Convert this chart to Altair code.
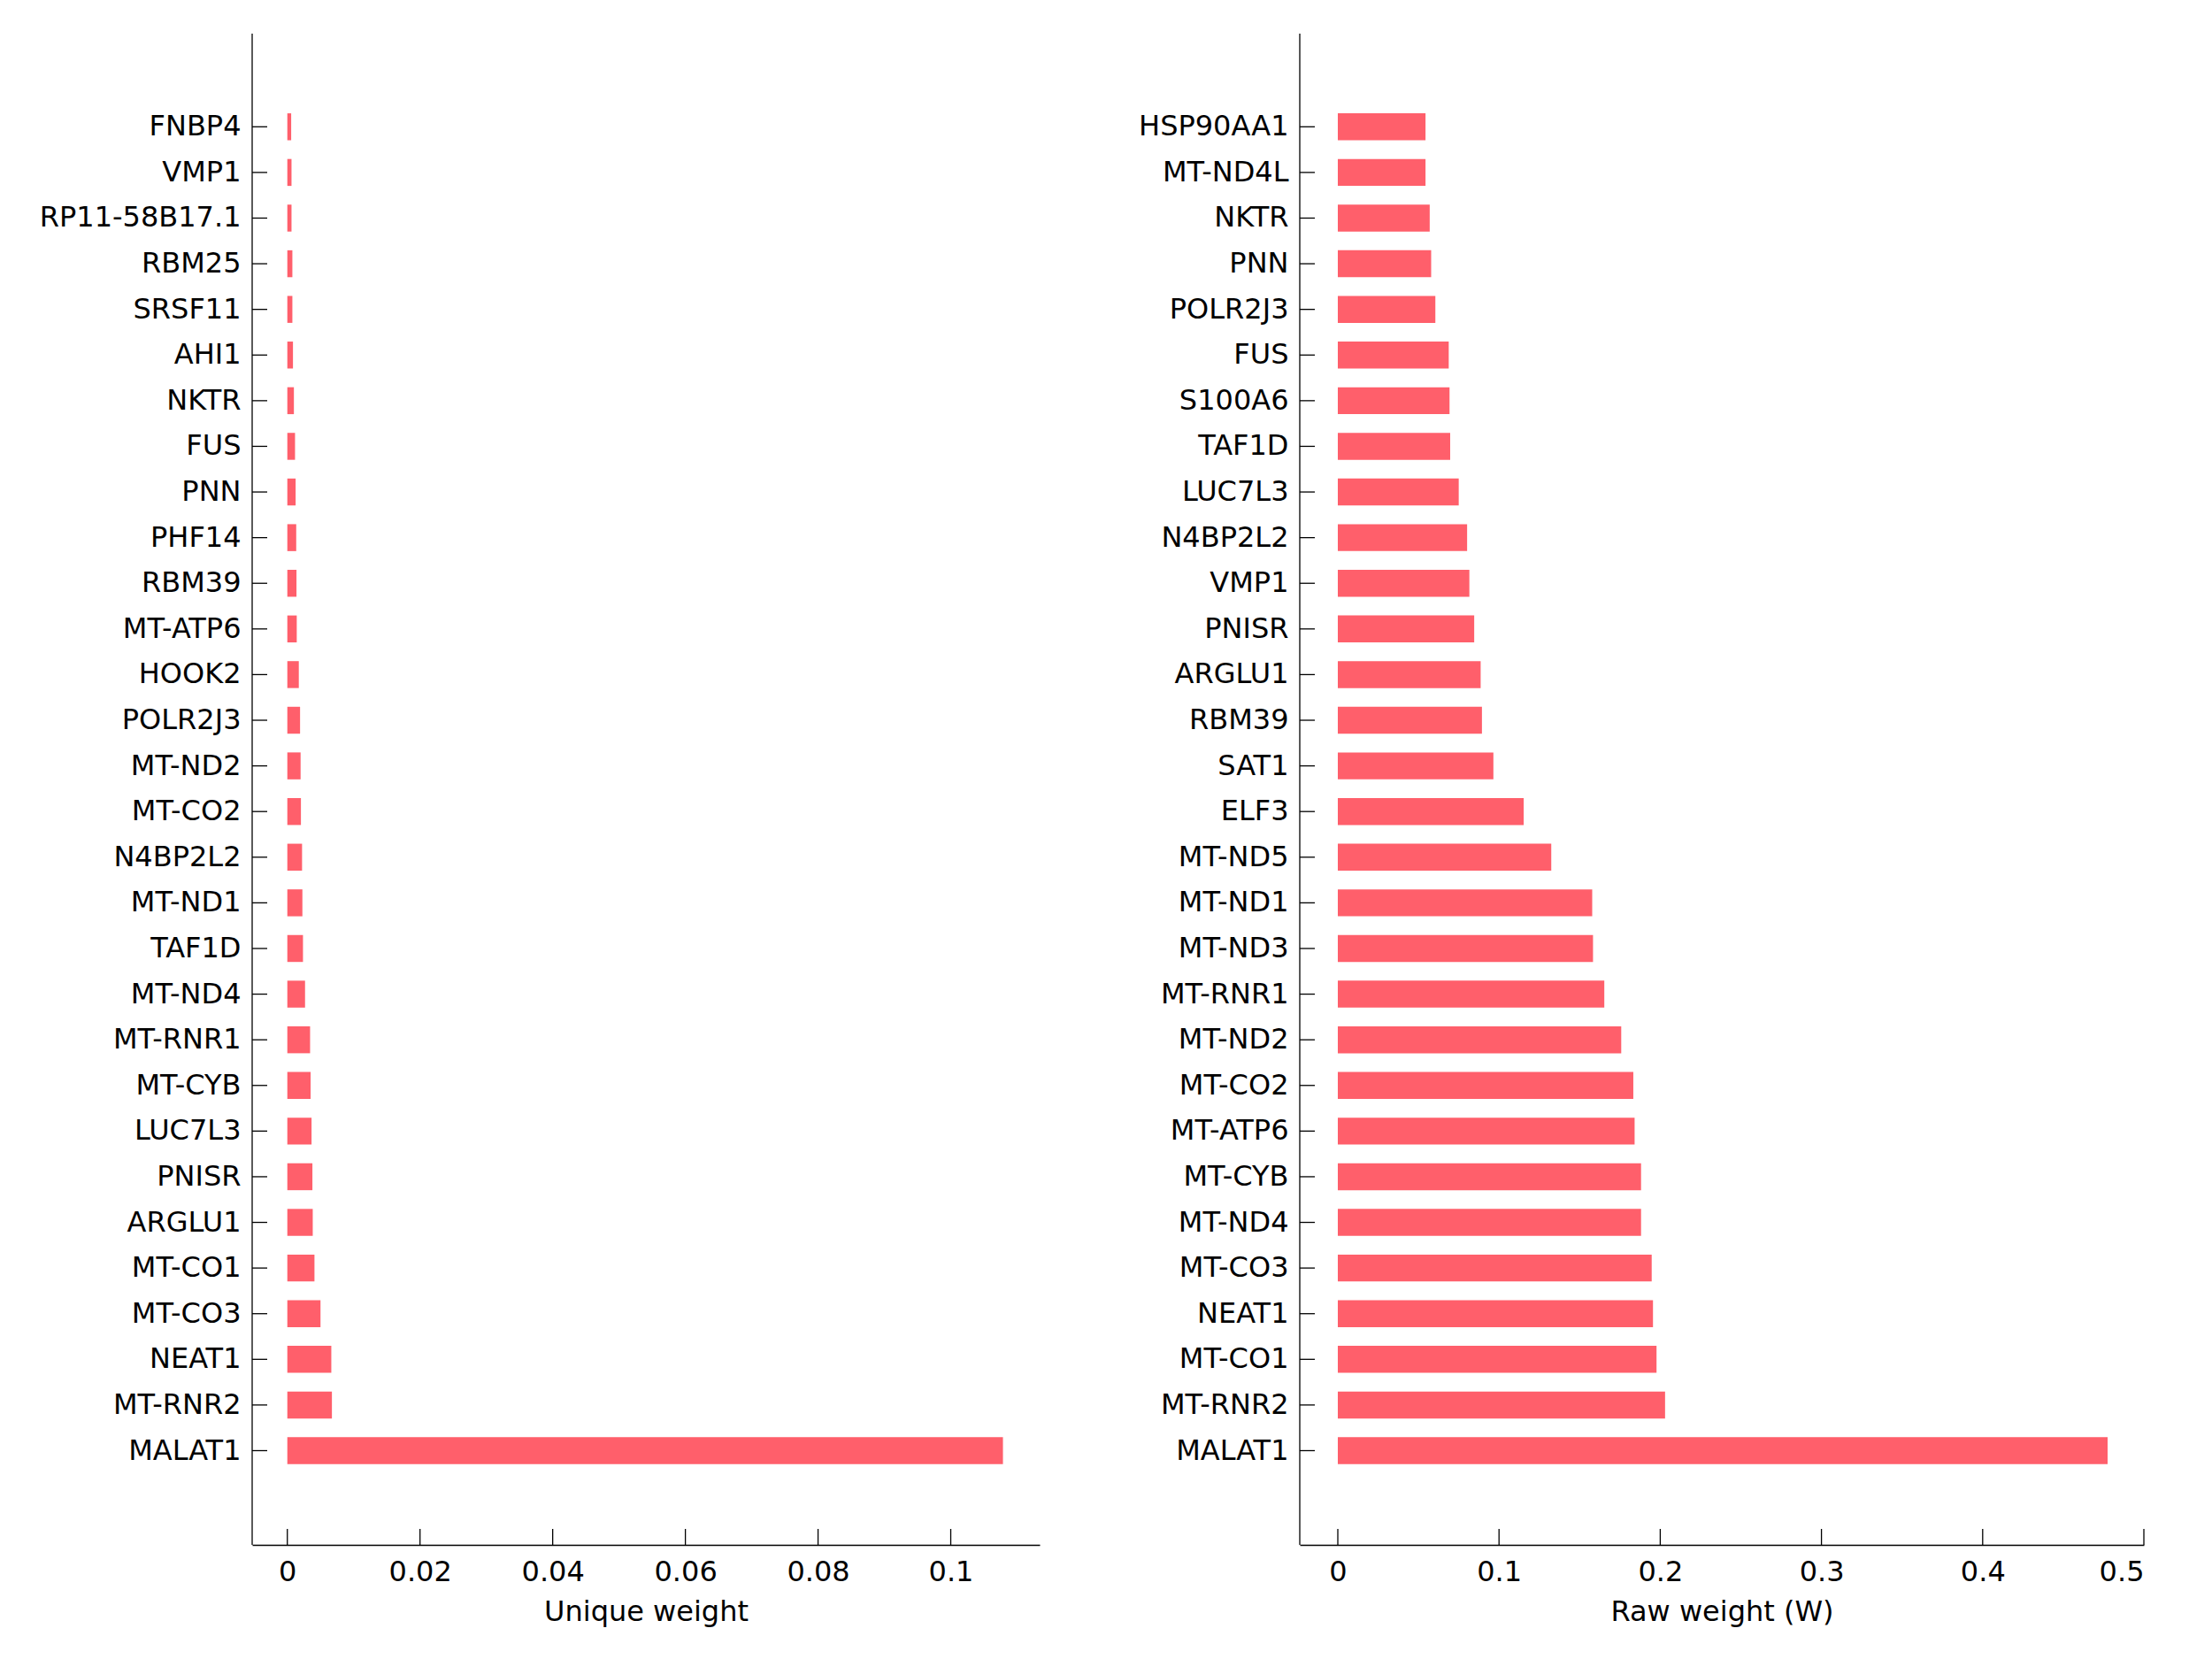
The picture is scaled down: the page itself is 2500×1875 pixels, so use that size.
import altair as alt
import pandas as pd

FONT = "DejaVu Sans"
BAR_COLOR = "#FF5F6B"

left_genes = ["FNBP4", "VMP1", "RP11-58B17.1", "RBM25", "SRSF11", "AHI1", "NKTR", "FUS",
              "PNN", "PHF14", "RBM39", "MT-ATP6", "HOOK2", "POLR2J3", "MT-ND2", "MT-CO2",
              "N4BP2L2", "MT-ND1", "TAF1D", "MT-ND4", "MT-RNR1", "MT-CYB", "LUC7L3", "PNISR",
              "ARGLU1", "MT-CO1", "MT-CO3", "NEAT1", "MT-RNR2", "MALAT1"]
left_vals = [0.00058, 0.00063, 0.00063, 0.00076, 0.00076, 0.00085, 0.00099, 0.00116,
             0.00125, 0.00134, 0.00138, 0.00142, 0.00173, 0.00192, 0.00200, 0.00205,
             0.00222, 0.00227, 0.00236, 0.00267, 0.00343, 0.00351, 0.00365, 0.00378,
             0.00383, 0.00409, 0.00500, 0.00663, 0.00672, 0.10787]

right_genes = ["HSP90AA1", "MT-ND4L", "NKTR", "PNN", "POLR2J3", "FUS", "S100A6", "TAF1D",
               "LUC7L3", "N4BP2L2", "VMP1", "PNISR", "ARGLU1", "RBM39", "SAT1", "ELF3",
               "MT-ND5", "MT-ND1", "MT-ND3", "MT-RNR1", "MT-ND2", "MT-CO2", "MT-ATP6", "MT-CYB",
               "MT-ND4", "MT-CO3", "NEAT1", "MT-CO1", "MT-RNR2", "MALAT1"]
right_vals = [0.0544, 0.0544, 0.0570, 0.0579, 0.0605, 0.0688, 0.0693, 0.0697,
              0.0750, 0.0802, 0.0816, 0.0846, 0.0886, 0.0894, 0.0965, 0.1153,
              0.1324, 0.1578, 0.1583, 0.1653, 0.1758, 0.1833, 0.1841, 0.1881,
              0.1881, 0.1947, 0.1955, 0.1977, 0.2030, 0.4775]

left_ticks = [0, 0.02, 0.04, 0.06, 0.08, 0.1]
right_ticks = [0, 0.1, 0.2, 0.3, 0.4, 0.5]

H = 1708
LW = 890
RW = 954

# band layout: 30 categories, centres of first/last band measured from plot top
N = 30
PI = 0.41
PO = 0.3
C_FIRST = 105.3
C_LAST = 1601.5
STEP = (C_LAST - C_FIRST) / (N - 1)
R0 = C_FIRST - STEP * (PO + (1 - PI) / 2)
R1 = R0 + STEP * (N - PI + 2 * PO)


def panel(genes, vals, ticks, dom, w, title):
    df = pd.DataFrame({"gene": genes, "value": vals})
    tdf = pd.DataFrame({"value": ticks})
    yenc = alt.Y("gene:N", sort=genes,
                 scale=alt.Scale(paddingInner=PI, paddingOuter=PO, range=[R0, R1]),
                 axis=alt.Axis(title=None, ticks=False, domain=False, labelPadding=13,
                               labelFontSize=32, labelFont=FONT, labelColor="black",
                               labelLimit=1000))
    xenc = alt.X("value:Q",
                 scale=alt.Scale(domain=dom, nice=False, zero=False),
                 axis=alt.Axis(values=ticks, format="~g", ticks=False, grid=False,
                               title=title, labelPadding=15, titlePadding=14,
                               labelFontSize=32, labelFont=FONT, labelColor="black",
                               titleFontSize=32, titleFont=FONT, titleFontWeight="normal",
                               titleColor="black", domainColor="black", domainWidth=1.3))
    bars = alt.Chart(df).mark_bar(color=BAR_COLOR).encode(
        x=xenc, x2=alt.datum(0), y=yenc)
    ytk = alt.Chart(df).mark_rule(color="black", strokeWidth=1.3).encode(
        y=alt.Y("gene:N", sort=genes), x=alt.value(0), x2=alt.value(17))
    xtk = alt.Chart(tdf).mark_rule(color="black", strokeWidth=1.3).encode(
        x=alt.X("value:Q"), y=alt.value(H), y2=alt.value(H - 18))
    ydom = alt.Chart(tdf.head(1)).mark_rule(color="black", strokeWidth=1.3).encode(
        x=alt.value(0), y=alt.value(0), y2=alt.value(H))
    return alt.layer(bars, ytk, xtk, ydom).properties(width=w, height=H)


left = panel(left_genes, left_vals, left_ticks, [-0.0053, 0.1134], LW, "Unique weight")
right = panel(right_genes, right_vals, right_ticks, [-0.0236, 0.5], RW, "Raw weight (W)")

chart = alt.hconcat(left, right, spacing=111).properties(
    padding={"top": 29, "left": 36, "right": 5, "bottom": 5},
    background="white"
).configure_view(stroke=None)

chart.save("out.html", embed_options={"renderer": "svg", "actions": False})
